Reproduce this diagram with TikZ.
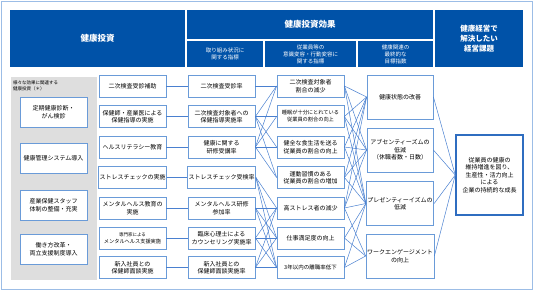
\documentclass[tikz,border=0pt]{standalone}
\usepackage{fontspec}
\setmainfont{Noto Sans CJK JP}
\definecolor{hdblue}{HTML}{0052A8}
\definecolor{bxblue}{HTML}{6A9BD8}
\definecolor{kgblue}{HTML}{2F6DC0}
\definecolor{lnblue}{HTML}{4A80D0}
\definecolor{frame}{HTML}{9CBDE6}
\definecolor{panel}{HTML}{DEDEDE}
\begin{document}
\begin{tikzpicture}[x=1pt, y=-1pt,
    hd/.style={fill=hdblue, text=white, inner sep=0pt, align=center},
    bx/.style={draw=bxblue, fill=white, line width=.8pt, inner sep=1pt, align=center,
      minimum width=67pt, minimum height=22pt, font=\fontsize{6}{7.5}\selectfont},
    ln/.style={draw=lnblue, line width=.5pt}]
    \useasboundingbox (0,0) rectangle (534,291);

    % Draw outer frame
    \draw[frame, line width=1.3pt] (1.5,1.5) rectangle (532.5,289.5);

    % Draw header cells
    \node[hd, minimum width=175pt, minimum height=57pt, font=\fontsize{8.5}{10}\selectfont\bfseries] (hInv) at (97.5,38.5) {健康投資};
    \node[hd, minimum width=246pt, minimum height=29pt, font=\fontsize{8.5}{10}\selectfont\bfseries] (hEff) at (310,24.5) {健康投資効果};
    \node[hd, minimum width=76pt, minimum height=26pt, font=\fontsize{5.5}{7}\selectfont] (hSub1) at (225,54) {取り組み状況に\\関する指標};
    \node[hd, minimum width=91pt, minimum height=26pt, font=\fontsize{5.5}{7}\selectfont] (hSub2) at (310.5,54) {従業員等の\\意識変容・行動変容に\\関する指標};
    \node[hd, minimum width=75pt, minimum height=26pt, font=\fontsize{5.5}{7}\selectfont] (hSub3) at (395.5,54) {健康関連の\\最終的な\\目標指数};
    \node[hd, minimum width=88pt, minimum height=57pt, font=\fontsize{7.5}{10}\selectfont\bfseries] (hMgt) at (479,38.5) {健康経営で\\解決したい\\経営課題};

    % Draw grey panel with related investments
    \fill[panel] (11,77) rectangle (97,280);
    \node[anchor=north west, align=left, inner sep=0pt, font=\fontsize{4.5}{6}\selectfont] (note) at (13,81) {様々な効果に関連する\\健康投資（＊）};
    \node[bx, minimum height=30pt] (lf1) at (53.5,112) {定期健康診断・\\がん検診};
    \node[bx, minimum height=30pt] (lf2) at (53.5,158) {健康管理システム導入};
    \node[bx, minimum height=30pt] (lf3) at (53.5,205) {産業保健スタッフ\\体制の整備・充実};
    \node[bx, minimum height=30pt] (lf4) at (53.5,249) {働き方改革・\\両立支援制度導入};

    % Draw investment measures
    \node[bx] (sk1) at (132.5,86) {二次検査受診補助};
    \node[bx] (sk2) at (132.5,116.5) {保健師・産業医による\\保健指導の実施};
    \node[bx] (sk3) at (132.5,147) {ヘルスリテラシー教育};
    \node[bx] (sk4) at (132.5,177.5) {ストレスチェックの実施};
    \node[bx] (sk5) at (132.5,208) {メンタルヘルス教育の\\実施};
    \node[bx, font=\fontsize{5.2}{7}\selectfont] (sk6) at (132.5,238) {{\fontsize{4.5}{7}\selectfont 専門家による}\\メンタルヘルス支援実施};
    \node[bx] (sk7) at (132.5,267.5) {新入社員との\\保健師面談実施};

    % Draw activity indicators
    \node[bx] (ts1) at (221.5,86) {二次検査受診率};
    \node[bx] (ts2) at (221.5,116.5) {二次検査対象者への\\保健指導実施率};
    \node[bx] (ts3) at (221.5,147) {健康に関する\\研修受講率};
    \node[bx] (ts4) at (221.5,177.5) {ストレスチェック受検率};
    \node[bx] (ts5) at (221.5,208) {メンタルヘルス研修\\参加率};
    \node[bx] (ts6) at (221.5,238) {臨床心理士による\\カウンセリング実施率};
    \node[bx] (ts7) at (221.5,267.5) {新入社員との\\保健師面談実施率};

    % Draw awareness and behaviour indicators
    \node[bx] (ik1) at (310.5,86) {二次検査対象者\\割合の減少};
    \node[bx, font=\fontsize{5.2}{7}\selectfont] (ik2) at (310.5,116.5) {睡眠が十分にとれている\\従業員の割合の向上};
    \node[bx] (ik3) at (310.5,147) {健全な食生活を送る\\従業員の割合の向上};
    \node[bx] (ik4) at (310.5,177.5) {運動習慣のある\\従業員の割合の増加};
    \node[bx] (ik5) at (310.5,208) {高ストレス者の減少};
    \node[bx] (ik6) at (310.5,238) {仕事満足度の向上};
    \node[bx, font=\fontsize{5.5}{7}\selectfont] (ik7) at (310.5,267.5) {3年以内の離職率低下};

    % Draw final goals
    \node[bx, minimum width=66pt, minimum height=44pt] (mk1) at (400,97) {健康状態の改善};
    \node[bx, minimum width=66pt, minimum height=44pt] (mk2) at (400,150) {アブセンティーズムの\\低減\\（休職者数・日数）};
    \node[bx, minimum width=66pt, minimum height=44pt] (mk3) at (400,203.5) {プレゼンティーイズムの\\低減};
    \node[bx, minimum width=66pt, minimum height=44pt] (mk4) at (400,256) {ワークエンゲージメント\\の向上};

    % Draw management issue
    \node[bx, draw=kgblue, line width=1.5pt, minimum height=80pt] (kg) at (489.5,175) {従業員の健康の\\維持増進を図り、\\生産性・活力向上\\による\\企業の持続的な成長};

    % Draw connectors
    \foreach \i in {1,...,7}
        \draw[ln] (sk\i.east) -- (ts\i.west);
    \foreach \a/\b in {1/1,2/1,2/2,2/3,2/4,3/1,3/2,3/3,3/4,
                       4/5,4/6,4/7,5/5,5/6,5/7,6/5,6/6,6/7,7/5,7/6,7/7}
        \draw[ln] (ts\a.east) -- (ik\b.west);
    \foreach \a/\b in {1/1,1/2,1/3,2/1,2/2,2/3,3/1,3/2,3/3,4/1,4/2,4/3,
                       5/1,5/2,5/3,5/4,6/3,6/4,7/3,7/4}
        \draw[ln] (ik\a.east) -- (mk\b.west);
    \foreach \i in {1,...,4}
        \draw[ln] (mk\i.east) -- (kg.west);

\end{tikzpicture}
\end{document}
